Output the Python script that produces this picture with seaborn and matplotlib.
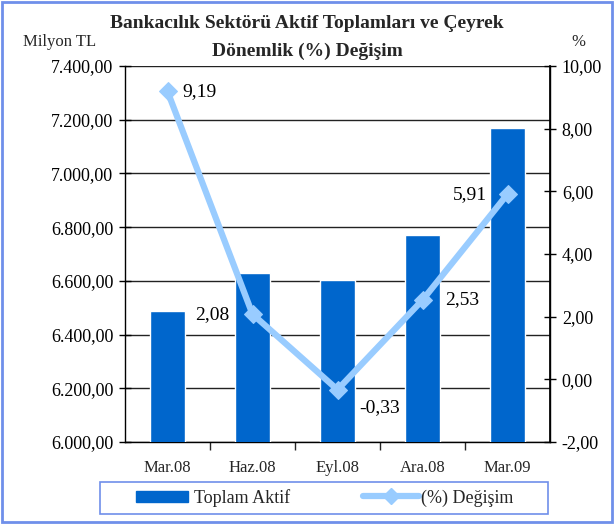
import matplotlib
matplotlib.use("Agg")
import matplotlib.pyplot as plt
import seaborn as sns
import pandas as pd
from matplotlib.lines import Line2D
from matplotlib.patches import Patch, Rectangle
from matplotlib.ticker import FuncFormatter, FixedLocator

categories = ["Mar.08", "Haz.08", "Eyl.08", "Ara.08", "Mar.09"]
toplam_aktif = [6488, 6628, 6603, 6771, 7169]
degisim = [9.19, 2.08, -0.33, 2.53, 5.91]
degisim_labels = ["9,19", "2,08", "-0,33", "2,53", "5,91"]
label_offsets = [(11, 0), (-17, 0), (16, -13), (16, 0), (-15, 0)]
label_ha = ["left", "right", "left", "left", "right"]

sns.set_theme(style="white")
plt.rcParams["font.family"] = ["Liberation Serif", "DejaVu Serif"]

BAR = "#0066CC"
LINE = "#99CCFF"
BORDER = "#6F8FEA"

fig = plt.figure(figsize=(6.14, 5.24), dpi=100)
ax = fig.add_axes([125/614, 1-442/524, 425/614, 376/524])

df = pd.DataFrame({"cat": categories, "val": toplam_aktif})
sns.barplot(data=df, x="cat", y="val", ax=ax, color=BAR, width=0.42,
            saturation=1, zorder=3)
ax.set_ylim(6000, 7400)
ax.set_xlim(-0.5, 4.5)
ax.yaxis.set_major_locator(FixedLocator(range(6000, 7401, 200)))
ax.yaxis.set_major_formatter(FuncFormatter(
    lambda v, p: f"{int(v):,}".replace(",", ".") + ",00"))
ax.grid(axis="y", color="#222222", linewidth=1, zorder=0)
ax.set_axisbelow(True)
ax.set_xlabel("")
ax.set_ylabel("")
ax.spines["top"].set_visible(False)
for s in ["left", "right", "bottom"]:
    ax.spines[s].set_visible(True)
    ax.spines[s].set_color("black")
    ax.spines[s].set_linewidth(1)
ax.tick_params(axis="y", direction="inout", length=9, width=1, labelsize=13,
               colors="black", left=True, pad=4)
ax.tick_params(axis="x", which="minor", direction="out", length=6, width=1,
               bottom=True)
ax.tick_params(axis="x", which="major", length=0, labelsize=12, pad=13)
ax.set_xticks([0.5, 1.5, 2.5, 3.5], minor=True)

ax2 = ax.twinx()
sns.lineplot(x=list(range(len(categories))), y=degisim, ax=ax2, color=LINE,
             linewidth=4.5, marker="D", markersize=9, markeredgecolor=LINE,
             zorder=5)
ax2.set_ylim(-2, 10)
ax2.set_yticks(range(-2, 11, 2))
ax2.yaxis.set_major_formatter(FuncFormatter(lambda v, p: f"{v:.2f}".replace(".", ",")))
ax2.tick_params(axis="y", direction="inout", length=9, width=1, labelsize=13,
                colors="black", right=True, pad=4)
ax2.grid(False)
for s in ax2.spines.values():
    s.set_visible(False)
ax2.spines["right"].set_visible(True)
ax2.spines["right"].set_color("black")

for i, (v, t) in enumerate(zip(degisim, degisim_labels)):
    ax2.annotate(t, (i, v), xytext=label_offsets[i], textcoords="offset points",
                 ha=label_ha[i], va="center", fontsize=14, color="black")

fig.text(0.5, 1-24/524, "Bankacılık Sektörü Aktif Toplamları ve Çeyrek",
         ha="center", va="center", fontsize=14, fontweight="bold")
fig.text(0.5, 1-51/524, "Dönemlik (%) Değişim",
         ha="center", va="center", fontsize=14, fontweight="bold")
fig.text(60/614, 1-42/524, "Milyon TL", ha="center", va="center", fontsize=12)
fig.text(578/614, 1-42/524, "%", ha="center", va="center", fontsize=12)

# legend frame
fig.patches.append(Rectangle((100/614, 1-514/524), 448/614, 32/524,
                             transform=fig.transFigure, fill=False,
                             edgecolor=BORDER, linewidth=1.2))
h1 = [Patch(facecolor=BAR, edgecolor=BAR)]
h2 = [Line2D([0], [0], color=LINE, linewidth=4.5, marker="D", markersize=8)]
leg1 = fig.legend(h1, ["Toplam Aktif"], loc="center left",
                  bbox_to_anchor=(136/614, 1-498/524), fontsize=13,
                  frameon=False, handlelength=2.9, handleheight=0.55,
                  handletextpad=0.3, borderpad=0, borderaxespad=0)
leg2 = fig.legend(h2, ["(%) Değişim"], loc="center left",
                  bbox_to_anchor=(363/614, 1-498/524), fontsize=13,
                  frameon=False, handlelength=3.1,
                  handletextpad=0.1, borderpad=0, borderaxespad=0)

fig.patches.append(Rectangle((2/614, 2/524), 610/614, 520/524, transform=fig.transFigure,
                             fill=False, edgecolor=BORDER, linewidth=2))

fig.savefig("out.png", dpi=100)
